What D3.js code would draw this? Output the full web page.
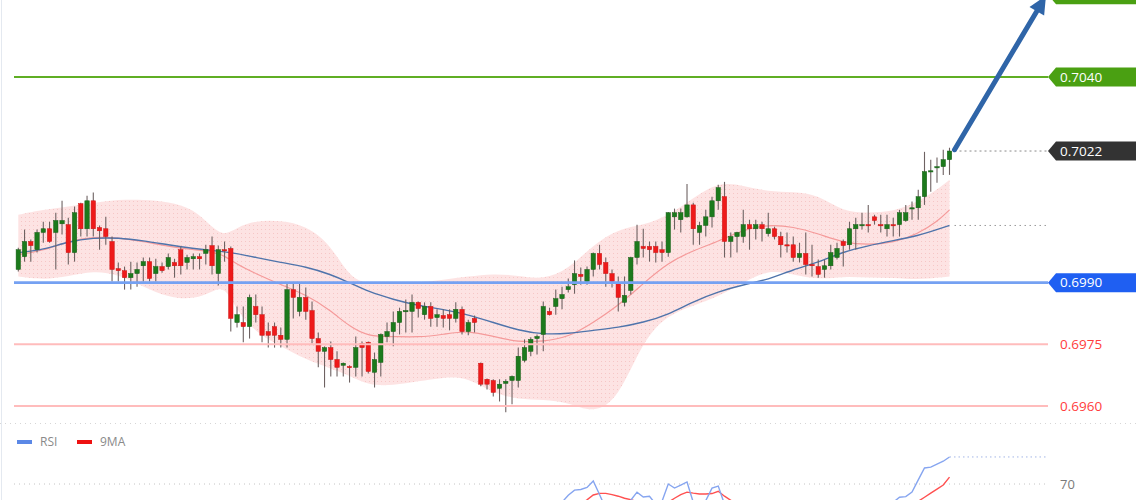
<!DOCTYPE html>
<html>
<head>
<meta charset="utf-8">
<script src="https://cdnjs.cloudflare.com/ajax/libs/d3/7.8.5/d3.min.js"></script>
<style>
  html, body { margin: 0; padding: 0; background: #fff; overflow: hidden; }
  svg { display: block; font-family: "Open Sans", "DejaVu Sans", sans-serif; }
</style>
</head>
<body>
<svg id="chart" width="1140" height="500"></svg>
<script>
// candles (price), one per bar, oldest first
const opens = [0.69932,0.69963,0.70000,0.69980,0.70022,0.70031,0.70022,0.70043,0.70041,0.69973,0.70092,0.70031,0.70099,0.70034,0.70031,0.70000,0.69934,0.69929,0.69912,0.69922,0.69941,0.69951,0.69922,0.69939,0.69939,0.69949,0.69980,0.69949,0.69958,0.69963,0.69971,0.69990,0.69922,0.69980,0.69983,0.69803,0.69803,0.69793,0.69842,0.69822,0.69781,0.69793,0.69772,0.69762,0.69883,0.69830,0.69864,0.69832,0.69764,0.69733,0.69742,0.69713,0.69699,0.69696,0.69694,0.69752,0.69755,0.69682,0.69706,0.69769,0.69781,0.69803,0.69830,0.69830,0.69852,0.69822,0.69842,0.69815,0.69820,0.69822,0.69813,0.69835,0.69781,0.69813,0.69704,0.69665,0.69662,0.69643,0.69655,0.69662,0.69662,0.69711,0.69733,0.69764,0.69774,0.69830,0.69842,0.69861,0.69883,0.69895,0.69920,0.69903,0.69932,0.69971,0.69949,0.69922,0.69900,0.69852,0.69881,0.69961,0.69988,0.69988,0.69988,0.69980,0.69973,0.70060,0.70053,0.70060,0.70089,0.70022,0.70039,0.70060,0.70099,0.70109,0.70000,0.70012,0.70012,0.70041,0.70031,0.70041,0.70019,0.70031,0.70012,0.69992,0.69992,0.69961,0.69971,0.69944,0.69939,0.69932,0.69941,0.69961,0.70000,0.69992,0.70031,0.70039,0.70041,0.70060,0.70041,0.70031,0.70041,0.70041,0.70051,0.70080,0.70082,0.70109,0.70170,0.70179,0.70182,0.70199];
const highs = [0.69985,0.70029,0.70005,0.70029,0.70048,0.70048,0.70070,0.70099,0.70058,0.70085,0.70094,0.70111,0.70119,0.70039,0.70060,0.70012,0.69949,0.69939,0.69951,0.69949,0.69961,0.69961,0.69958,0.69949,0.69971,0.69958,0.69988,0.69968,0.69971,0.69971,0.69992,0.70012,0.69990,0.70000,0.69988,0.69842,0.69842,0.69871,0.69871,0.69842,0.69803,0.69803,0.69791,0.69900,0.69900,0.69900,0.69888,0.69854,0.69779,0.69745,0.69757,0.69733,0.69706,0.69699,0.69769,0.69757,0.69757,0.69730,0.69776,0.69803,0.69830,0.69839,0.69859,0.69871,0.69854,0.69852,0.69852,0.69835,0.69835,0.69835,0.69852,0.69842,0.69810,0.69820,0.69706,0.69667,0.69665,0.69665,0.69665,0.69674,0.69742,0.69762,0.69767,0.69774,0.69854,0.69839,0.69883,0.69890,0.69910,0.69954,0.69937,0.69939,0.69973,0.69992,0.69961,0.69932,0.69915,0.69915,0.69963,0.70041,0.70031,0.70000,0.70000,0.70000,0.70072,0.70080,0.70080,0.70140,0.70094,0.70048,0.70077,0.70109,0.70138,0.70145,0.70022,0.70024,0.70077,0.70053,0.70053,0.70048,0.70070,0.70036,0.70024,0.70022,0.70012,0.69997,0.70022,0.69992,0.69956,0.69956,0.69992,0.69997,0.70005,0.70048,0.70058,0.70070,0.70089,0.70065,0.70065,0.70065,0.70058,0.70077,0.70089,0.70097,0.70126,0.70218,0.70199,0.70204,0.70223,0.70228];
const lows = [0.69927,0.69951,0.69951,0.69973,0.69997,0.69997,0.69932,0.70017,0.69944,0.69951,0.70012,0.70012,0.70012,0.69980,0.69992,0.69903,0.69903,0.69883,0.69883,0.69890,0.69903,0.69903,0.69903,0.69924,0.69932,0.69912,0.69920,0.69932,0.69932,0.69932,0.69944,0.69920,0.69893,0.69951,0.69781,0.69791,0.69755,0.69764,0.69803,0.69755,0.69742,0.69742,0.69742,0.69742,0.69813,0.69818,0.69810,0.69752,0.69694,0.69645,0.69672,0.69672,0.69672,0.69657,0.69672,0.69672,0.69679,0.69645,0.69672,0.69755,0.69745,0.69774,0.69779,0.69779,0.69815,0.69810,0.69793,0.69793,0.69791,0.69784,0.69803,0.69774,0.69772,0.69779,0.69648,0.69640,0.69623,0.69611,0.69585,0.69604,0.69645,0.69706,0.69721,0.69725,0.69733,0.69820,0.69822,0.69835,0.69876,0.69873,0.69895,0.69895,0.69915,0.69932,0.69890,0.69888,0.69830,0.69842,0.69871,0.69944,0.69961,0.69951,0.69949,0.69951,0.69963,0.70029,0.70022,0.70058,0.69992,0.69992,0.70012,0.70034,0.70077,0.69961,0.69961,0.69973,0.69997,0.69980,0.70005,0.70000,0.70012,0.70005,0.69961,0.69973,0.69951,0.69949,0.69920,0.69915,0.69912,0.69912,0.69932,0.69956,0.69939,0.69980,0.69980,0.70029,0.70022,0.70041,0.70022,0.70012,0.70012,0.70012,0.70048,0.70053,0.70053,0.70089,0.70121,0.70143,0.70162,0.70162];
const closes = [0.69980,0.70000,0.69990,0.70022,0.70031,0.70000,0.70051,0.70051,0.69973,0.70070,0.70031,0.70099,0.70031,0.70026,0.70012,0.69932,0.69929,0.69912,0.69922,0.69932,0.69951,0.69910,0.69939,0.69929,0.69961,0.69941,0.69941,0.69961,0.69963,0.69958,0.69980,0.69941,0.69980,0.69978,0.69813,0.69822,0.69793,0.69864,0.69822,0.69772,0.69772,0.69772,0.69762,0.69883,0.69864,0.69864,0.69830,0.69764,0.69733,0.69742,0.69713,0.69694,0.69704,0.69694,0.69742,0.69742,0.69684,0.69713,0.69774,0.69781,0.69803,0.69830,0.69832,0.69852,0.69837,0.69842,0.69813,0.69822,0.69813,0.69813,0.69835,0.69781,0.69803,0.69803,0.69653,0.69653,0.69633,0.69653,0.69660,0.69672,0.69721,0.69742,0.69762,0.69769,0.69842,0.69822,0.69861,0.69871,0.69890,0.69922,0.69915,0.69932,0.69971,0.69944,0.69922,0.69903,0.69864,0.69869,0.69961,0.70000,0.69983,0.69980,0.69973,0.69973,0.70070,0.70070,0.70070,0.70089,0.70031,0.70039,0.70060,0.70099,0.70131,0.70000,0.70012,0.70022,0.70041,0.70031,0.70041,0.70031,0.70031,0.70012,0.69992,0.69990,0.69961,0.69971,0.69944,0.69941,0.69920,0.69941,0.69973,0.69983,0.69990,0.70031,0.70041,0.70041,0.70039,0.70051,0.70039,0.70041,0.70039,0.70070,0.70070,0.70082,0.70109,0.70170,0.70172,0.70182,0.70199,0.70220];

// bollinger band + moving averages, read at these bar indices
const maIndex = [0,4,8,12,16,20,24,28,31,33,35,38,42,46,50,53,56,60,64,68,72,76,80,84,88,92,96,100,104,108,112,116,120,124,128,132,136,140,144,147,149];
const bandUpper = [0.70065,0.70077,0.70085,0.70094,0.70102,0.70102,0.70097,0.70080,0.70034,0.70014,0.70034,0.70051,0.70051,0.70039,0.69992,0.69912,0.69895,0.69898,0.69900,0.69907,0.69915,0.69922,0.69917,0.69907,0.69932,0.69992,0.70031,0.70039,0.70063,0.70106,0.70145,0.70136,0.70121,0.70121,0.70114,0.70072,0.70070,0.70072,0.70097,0.70126,0.70150];
const bandLower = [0.69915,0.69907,0.69915,0.69929,0.69920,0.69890,0.69864,0.69859,0.69878,0.69893,0.69830,0.69779,0.69745,0.69713,0.69691,0.69674,0.69650,0.69650,0.69660,0.69670,0.69670,0.69631,0.69616,0.69616,0.69609,0.69582,0.69616,0.69762,0.69822,0.69844,0.69866,0.69900,0.69932,0.69920,0.69907,0.69915,0.69912,0.69912,0.69907,0.69912,0.69915];
const maFast = [0.69968,0.69978,0.70000,0.70012,0.70009,0.70000,0.69988,0.69980,0.69975,0.69966,0.69944,0.69922,0.69895,0.69871,0.69832,0.69793,0.69769,0.69769,0.69767,0.69774,0.69784,0.69769,0.69755,0.69757,0.69767,0.69803,0.69844,0.69898,0.69949,0.69978,0.70000,0.70029,0.70041,0.70036,0.70019,0.69997,0.69992,0.69997,0.70019,0.70048,0.70077];
const maSlow = [0.69973,0.69980,0.70000,0.70009,0.70009,0.70002,0.69992,0.69983,0.69978,0.69975,0.69971,0.69961,0.69949,0.69939,0.69920,0.69900,0.69878,0.69859,0.69844,0.69835,0.69822,0.69803,0.69784,0.69774,0.69776,0.69784,0.69791,0.69803,0.69822,0.69854,0.69878,0.69895,0.69907,0.69932,0.69949,0.69975,0.69990,0.70002,0.70014,0.70029,0.70039];

// RSI panel, only the stretches that rise into view
const rsiIndex = [87,88,89,90,91,92,93,94, 97,98,99,100,101,102,103,104,105,106,107,108, 110,111,112,113, 140,141,142,143,144,145,146,147,148,149];
const rsiValue = [61,64.5,67,67.3,68.3,71.5,64.8,58, 58,62,66,63.6,64,60,61.5,70,68,69.5,71,61, 61.8,68,69,60, 61,63.5,63.8,66,72,77.9,78.3,79.8,81.2,83.3];
const rsiMaIndex = [90,91,92,93,94,95,96,97,98,99, 104,105,106,107,108,109,110,111,112,113,114,115, 144,145,146,147,148,149];
const rsiMaValue = [60,62.2,64.6,65.4,65.4,64.8,64,63,62.3,61.3, 61,63,64.8,66,65.5,65.1,65.1,65.3,66.4,64,62,60, 61.5,63.5,65.5,67.5,69.5,73.4];

// horizontal levels on the right scale
const levelPrices = [0.7060, 0.7040, 0.7022, 0.6990, 0.6975, 0.6960];
const levelKinds = ['target', 'resistance', 'last', 'pivot', 'support', 'support'];
const rsiLevel = 70;

const svg = d3.select('#chart');
const W = 1140, H = 500;
const lineLeft = 14, lineRight = 1048;

const x = d3.scaleLinear().domain([0, closes.length - 1]).range([18.3, 949.5]);
const y = d3.scaleLinear().domain([0.6960, 0.7040]).range([406, 77]);
const yR = d3.scaleLinear().domain([70, 100]).range([484, 423]);

// dotted pink fill of the band
const defs = svg.append('defs');
const pat = defs.append('pattern').attr('id', 'bandDots')
    .attr('width', 4).attr('height', 4).attr('patternUnits', 'userSpaceOnUse');
pat.append('rect').attr('width', 4).attr('height', 4).attr('fill', '#fde3e3');
pat.append('rect').attr('x', 1).attr('y', 1).attr('width', 1).attr('height', 1).attr('fill', '#f6c6c6');

svg.append('line').attr('x1', 1.5).attr('x2', 1.5).attr('y1', 0).attr('y2', H)
    .attr('stroke', '#e4e9f0').attr('stroke-width', 1);

const band = maIndex.map((i, k) => ({ i, up: bandUpper[k], lo: bandLower[k], fast: maFast[k], slow: maSlow[k] }));

svg.append('path').datum(band)
    .attr('fill', 'url(#bandDots)')
    .attr('d', d3.area().x(d => x(d.i)).y0(d => y(d.lo)).y1(d => y(d.up)).curve(d3.curveBasis));

svg.append('path').datum(band)
    .attr('fill', 'none').attr('stroke', '#f59a9a').attr('stroke-width', 1.2)
    .attr('d', d3.line().x(d => x(d.i)).y(d => y(d.fast)).curve(d3.curveBasis));

svg.append('path').datum(band)
    .attr('fill', 'none').attr('stroke', '#4f74ab').attr('stroke-width', 1.4)
    .attr('d', d3.line().x(d => x(d.i)).y(d => y(d.slow)).curve(d3.curveBasis));

// candles
const bars = closes.map((c, i) => ({ i, o: opens[i], h: highs[i], l: lows[i], c }));
const bodyW = 4.4;

const candle = svg.append('g').selectAll('g').data(bars).join('g');
candle.append('line')
    .attr('x1', d => x(d.i)).attr('x2', d => x(d.i))
    .attr('y1', d => y(d.h)).attr('y2', d => y(d.l))
    .attr('stroke', '#6e6262').attr('stroke-width', 1.1);
candle.append('rect')
    .attr('x', d => x(d.i) - bodyW / 2)
    .attr('width', bodyW)
    .attr('y', d => y(Math.max(d.o, d.c)))
    .attr('height', d => Math.max(1.2, Math.abs(y(d.o) - y(d.c))))
    .attr('fill', d => d.c >= d.o ? '#1c7a1c' : '#ee1a1a')
    .attr('stroke', d => d.c >= d.o ? '#165c16' : '#c91414')
    .attr('stroke-width', 0.5);

// levels
const levelColor = { target: '#4aa012', resistance: '#4aa012', last: '#333333', pivot: '#1f5ff2', support: '#ff3d3d' };
const levels = levelPrices.map((p, k) => ({ p, kind: levelKinds[k] }));
const last = bars[bars.length - 1];

levels.forEach(d => {
    const ly = y(d.p);
    if (d.kind === 'last') {
        svg.append('line').attr('x1', x(last.i) + 5).attr('x2', lineRight)
            .attr('y1', ly).attr('y2', ly)
            .attr('stroke', '#8a8a8a').attr('stroke-width', 1).attr('stroke-dasharray', '2,3');
    } else if (d.kind === 'support') {
        svg.append('line').attr('x1', lineLeft).attr('x2', lineRight).attr('y1', ly).attr('y2', ly)
            .attr('stroke', '#ffbcbc').attr('stroke-width', 2);
    } else if (d.kind === 'pivot') {
        svg.append('line').attr('x1', lineLeft).attr('x2', lineRight).attr('y1', ly).attr('y2', ly)
            .attr('stroke', '#75a1f2').attr('stroke-width', 2.6);
    } else {
        svg.append('line').attr('x1', lineLeft).attr('x2', lineRight).attr('y1', ly).attr('y2', ly)
            .attr('stroke', '#5fae24').attr('stroke-width', 2);
    }

    const label = d3.format('.4f')(d.p);
    if (d.kind === 'support') {
        svg.append('text').attr('x', 1060).attr('y', ly).attr('dy', '0.36em')
            .attr('font-size', 13.5).attr('fill', levelColor[d.kind]).text(label);
    } else {
        const hh = 9.5;
        svg.append('path')
            .attr('d', `M${lineRight},${ly} L${lineRight + 8},${ly - hh} L1136,${ly - hh} L1136,${ly + hh} L${lineRight + 8},${ly + hh} Z`)
            .attr('fill', levelColor[d.kind]);
        // the target tag sits above the frame; only its box edge shows
        if (d.kind !== 'target') {
            svg.append('text').attr('x', 1060).attr('y', ly).attr('dy', '0.36em')
                .attr('font-size', 13.5).attr('fill', '#fff').text(label);
        }
    }
});

// slow MA last value marker
const slowLast = maSlow[maSlow.length - 1];
svg.append('line').attr('x1', x(last.i) + 5).attr('x2', lineRight)
    .attr('y1', y(slowLast)).attr('y2', y(slowLast))
    .attr('stroke', '#9a9a9a').attr('stroke-width', 1).attr('stroke-dasharray', '1.5,3.5');

// projection arrow towards the upper target
const ax0 = x(last.i) + 5, ay0 = y(last.h) + 2;
const ax1 = 1046, ay1 = y(levelPrices[0]) + 1;
const ang = Math.atan2(ay1 - ay0, ax1 - ax0);
const headLen = 18, headHalf = 8.5;
const bx = ax1 - headLen * Math.cos(ang), by = ay1 - headLen * Math.sin(ang);
svg.append('line').attr('x1', ax0).attr('y1', ay0).attr('x2', bx).attr('y2', by)
    .attr('stroke', '#2f65a8').attr('stroke-width', 5).attr('stroke-linecap', 'round');
svg.append('path')
    .attr('d', `M${ax1},${ay1} L${bx + headHalf * Math.sin(ang)},${by - headHalf * Math.cos(ang)} L${bx - headHalf * Math.sin(ang)},${by + headHalf * Math.cos(ang)} Z`)
    .attr('fill', '#2f65a8');

// RSI panel
svg.append('line').attr('x1', 0).attr('x2', W).attr('y1', 423.5).attr('y2', 423.5)
    .attr('stroke', '#d6d6d6').attr('stroke-width', 1).attr('stroke-dasharray', '1,4');
svg.append('line').attr('x1', lineLeft).attr('x2', lineRight).attr('y1', yR(rsiLevel)).attr('y2', yR(rsiLevel))
    .attr('stroke', '#c4c4c4').attr('stroke-width', 1).attr('stroke-dasharray', '1,4');
svg.append('text').attr('x', 1060).attr('y', yR(rsiLevel)).attr('dy', '0.36em')
    .attr('font-size', 13).attr('fill', '#7a7a7a').text(rsiLevel);

function segments(idx, vals) {
    const out = [];
    idx.forEach((i, k) => {
        if (k === 0 || i - idx[k - 1] > 1) out.push([]);
        out[out.length - 1].push({ i, v: vals[k] });
    });
    return out;
}
const rsiLine = d3.line().x(d => x(d.i)).y(d => yR(d.v));

svg.append('g').selectAll('path').data(segments(rsiMaIndex, rsiMaValue)).join('path')
    .attr('fill', 'none').attr('stroke', '#ff5050').attr('stroke-width', 1.4).attr('d', rsiLine);
svg.append('g').selectAll('path').data(segments(rsiIndex, rsiValue)).join('path')
    .attr('fill', 'none').attr('stroke', '#86a5f0').attr('stroke-width', 1.4).attr('d', rsiLine);

const rsiLast = rsiValue[rsiValue.length - 1];
svg.append('line').attr('x1', x(last.i)).attr('x2', lineRight)
    .attr('y1', yR(rsiLast)).attr('y2', yR(rsiLast))
    .attr('stroke', '#a3b6e6').attr('stroke-width', 1).attr('stroke-dasharray', '1.5,3');

// legend
const legend = [{ name: 'RSI', color: '#5b88e6', x: 17 }, { name: '9MA', color: '#ee1111', x: 77 }];
const lg = svg.append('g').selectAll('g').data(legend).join('g');
lg.append('rect').attr('x', d => d.x).attr('y', 440).attr('width', 15).attr('height', 4).attr('fill', d => d.color);
lg.append('text').attr('x', d => d.x + 23).attr('y', 442).attr('dy', '0.36em')
    .attr('font-size', 12).attr('fill', '#8a8a8a').text(d => d.name);
</script>
</body>
</html>
